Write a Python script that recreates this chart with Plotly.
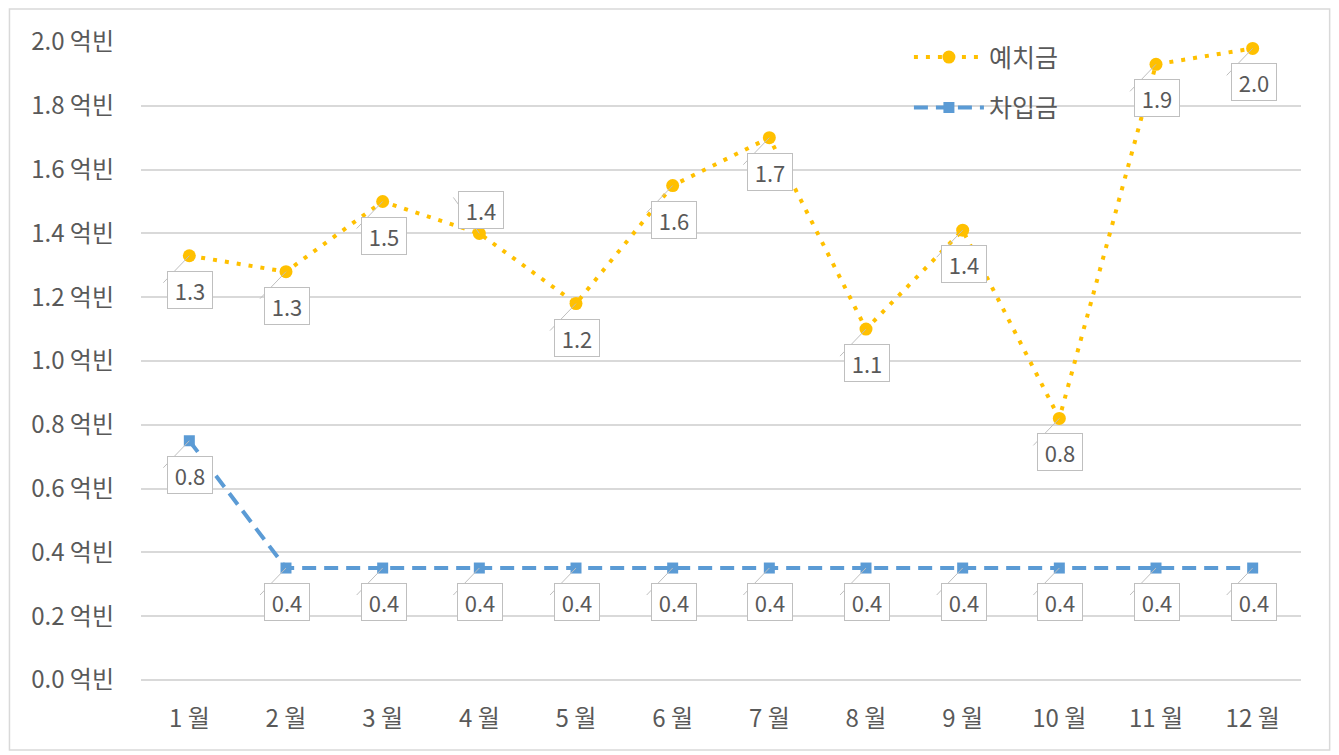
import plotly.graph_objects as go

# data
months = ["1 월", "2 월", "3 월", "4 월", "5 월", "6 월", "7 월", "8 월", "9 월", "10 월", "11 월", "12 월"]
deposits = [1.33, 1.28, 1.50, 1.40, 1.18, 1.55, 1.70, 1.10, 1.41, 0.82, 1.93, 1.98]
loans = [0.75, 0.351, 0.351, 0.351, 0.351, 0.351, 0.351, 0.351, 0.351, 0.351, 0.351, 0.351]
y_ticks = [0.0, 0.2, 0.4, 0.6, 0.8, 1.0, 1.2, 1.4, 1.6, 1.8, 2.0]
y_labels = [f"{v:.1f} 억빈" for v in y_ticks]

GOLD = "#FFC000"
BLUE = "#5B9BD5"
TEXT = "#595959"
GRID = "#D9D9D9"
FONT = "Noto Sans CJK KR, Malgun Gothic, sans-serif"

fig = go.Figure()
fig.add_trace(go.Scatter(
    x=months, y=deposits, name="예치금", mode="lines+markers",
    line=dict(color=GOLD, width=4, dash="4px,8px"),
    marker=dict(symbol="circle", size=13, color=GOLD),
    legendgroup="a", cliponaxis=False,
))
fig.add_trace(go.Scatter(
    x=months, y=loans, name="차입금", mode="lines+markers",
    line=dict(color=BLUE, width=4, dash="14px,8px"),
    marker=dict(symbol="square", size=11, color=BLUE),
    legendgroup="b", cliponaxis=False,
))


def add_label(x, y, above=False):
    # label box with a thin leader line, like the Excel data callouts
    dx, dy = (-26, 36) if above else (-26, -27)
    fig.add_shape(type="line", xref="x", yref="y", xsizemode="pixel", ysizemode="pixel",
                  xanchor=x, yanchor=y, x0=0, y0=0, x1=dx, y1=dy,
                  line=dict(color="#BFBFBF", width=1), layer="above")
    fig.add_annotation(x=x, y=y, text=f"{y:.1f}", showarrow=False,
                       xshift=2 if above else 1, yshift=23 if above else -34,
                       width=38, height=30, borderpad=3, borderwidth=1,
                       bordercolor="#BFBFBF", bgcolor="white",
                       font=dict(family=FONT, size=22, color=TEXT))


for i, m in enumerate(months):
    add_label(m, deposits[i], above=(i == 3))
    add_label(m, loans[i])

# outer chart border
fig.add_shape(type="rect", xref="paper", yref="paper", x0=-0.1134, x1=1.0247, y0=-0.1097, y1=1.0517,
              line=dict(color=GRID, width=1.5), layer="below")

# page body has an 8px margin, so the figure is a bit smaller than the window
fig.update_layout(
    width=1331, height=747,
    margin=dict(l=132.6, r=37.6, t=34, b=75, autoexpand=False),
    paper_bgcolor="white", plot_bgcolor="white",
    font=dict(family=FONT, size=24, color=TEXT),
    showlegend=True,
    legend=dict(x=0.662, y=1.012, xanchor="left", yanchor="top", tracegroupgap=15,
                itemwidth=70, font=dict(size=25, color=TEXT), bgcolor="rgba(0,0,0,0)"),
)
fig.update_xaxes(type="category", range=[-0.5, 11.5], automargin=False, showgrid=False,
                 showline=False, ticks="", tickfont=dict(size=24, color=TEXT), ticklabelstandoff=22)
fig.update_yaxes(range=[0, 2], tickvals=y_ticks, ticktext=y_labels, automargin=False,
                 showgrid=True, gridcolor=GRID, gridwidth=1.5, zeroline=True, zerolinecolor=GRID,
                 zerolinewidth=1.5, showline=False, ticks="", ticklabelstandoff=26,
                 tickfont=dict(size=24, color=TEXT))

fig.write_html("out.html")
